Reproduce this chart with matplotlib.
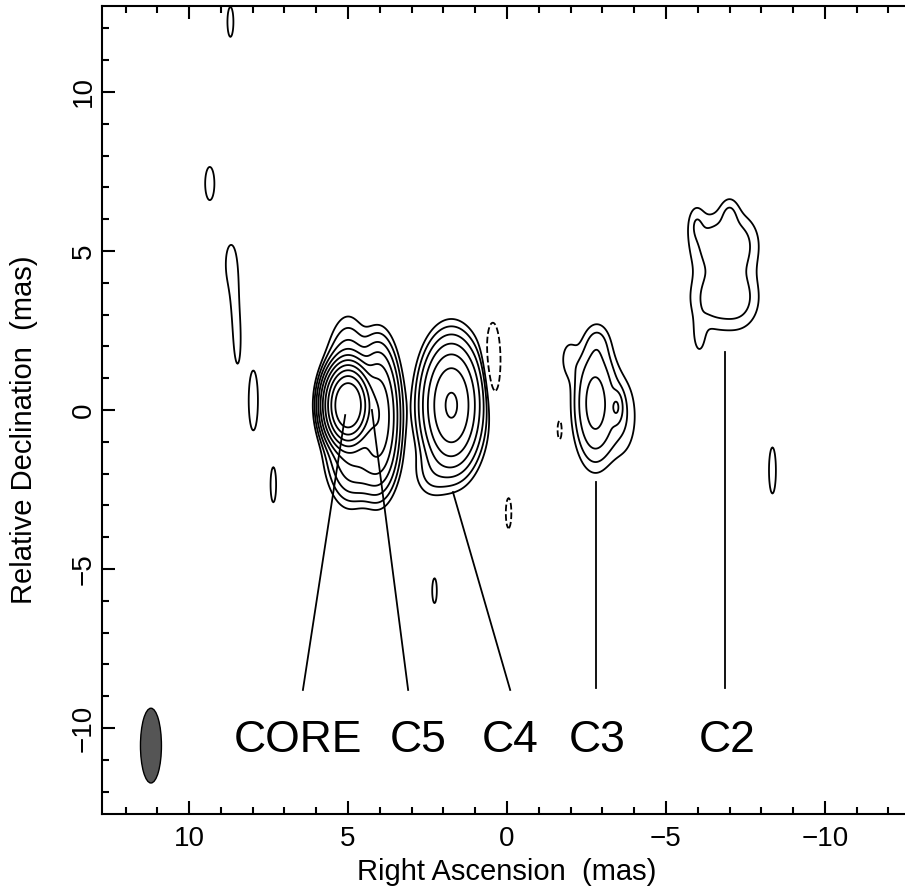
import numpy as np
import matplotlib
import matplotlib.pyplot as plt
from matplotlib.patches import Ellipse
from matplotlib.ticker import MultipleLocator

matplotlib.use("Agg")

plt.rcParams["font.family"] = ["Liberation Sans", "DejaVu Sans"]

# Gaussian model components (RA, Dec in mas; peak in units of the lowest contour)
comp_ra = [5.0, 5.0, 4.05, 4.6,
           1.75, 2.4,
           -2.77, -3.45, -3.6, -1.95, -2.85,
           -6.45, -7.3, -6.45, -7.3, -5.95, -7.0, -6.05,
           8.7, 9.35, 8.72, 8.55, 8.47, 7.98, 7.35, 2.28, -8.35,
           0.45, -1.66, -0.05]
comp_dec = [0.15, 0.0, -0.2, -1.6,
            0.15, -2.0,
            0.22, 0.09, -0.2, 1.6, 2.1,
            5.2, 5.2, 3.5, 3.5, 5.9, 6.2, 2.3,
            12.2, 7.12, 4.6, 3.2, 2.1, 0.3, -2.35, -5.68, -1.9,
            1.5, -0.62, -3.24]
comp_peak = [1300, 20, 60, 10,
             70, 1.8,
             11, 5.5, 2, 1.4, 1.5,
             2.4, 2.4, 2.4, 2.4, 1.3, 1.5, 1.3,
             1.3, 1.3, 1.15, 1.15, 1.15, 1.3, 1.3, 1.3, 1.3,
             -2.2, -1.3, -1.3]
comp_sx = [0.29, 0.35, 0.3, 0.45,
           0.43, 0.35,
           0.35, 0.12, 0.35, 0.2, 0.25,
           0.5, 0.45, 0.5, 0.45, 0.18, 0.2, 0.15,
           0.13, 0.2, 0.22, 0.12, 0.09, 0.2, 0.12, 0.1, 0.15,
           0.2, 0.1, 0.12]
comp_sy = [0.5, 1.2, 1.0, 0.6,
           0.93, 0.5,
           1.0, 0.3, 0.9, 0.45, 0.4,
           0.65, 0.65, 0.65, 0.65, 0.4, 0.35, 0.45,
           0.65, 0.72, 0.9, 1.0, 0.7, 1.3, 0.76, 0.54, 1.0,
           1.0, 0.44, 0.65]

contour_levels = [-1, 1, 2, 4, 8, 16, 32, 64, 128, 256, 512]

# component labels and their pointer lines
label_names = ["CORE", "C5", "C4", "C3", "C2"]
label_ra = [6.57, 2.8, -0.1, -2.85, -6.92]
label_dec = [-10.4, -10.4, -10.4, -10.4, -10.4]
pointer_ra0 = [5.09, 4.25, 1.7, -2.8, -6.86]
pointer_dec0 = [-0.16, 0.0, -2.58, -2.26, 1.82]
pointer_ra1 = [6.42, 3.11, -0.1, -2.8, -6.86]
pointer_dec1 = [-8.8, -8.8, -8.8, -8.74, -8.74]

# restoring beam
beam_ra, beam_dec = 11.2, -10.55
beam_minor, beam_major = 0.66, 2.35

ra = np.arange(-13.5, 13.5, 0.025)
dec = np.arange(-13.5, 13.5, 0.025)
RA, DEC = np.meshgrid(ra, dec)
image = np.zeros_like(RA)
for x0, y0, a, sx, sy in zip(comp_ra, comp_dec, comp_peak, comp_sx, comp_sy):
    image += a * np.exp(-((RA - x0) ** 2 / (2 * sx ** 2) + (DEC - y0) ** 2 / (2 * sy ** 2)))

fig = plt.figure(figsize=(9.05, 8.92), dpi=100)
ax = fig.add_axes([102 / 905, 78 / 892, 810 / 905, 808 / 892])

ax.contour(RA, DEC, image, levels=contour_levels, colors="k",
           linewidths=1.3, negative_linestyles="dashed")

for x0, y0, x1, y1 in zip(pointer_ra0, pointer_dec0, pointer_ra1, pointer_dec1):
    ax.plot([x0, x1], [y0, y1], color="k", lw=1.3)

for name, x, y in zip(label_names, label_ra, label_dec):
    ax.text(x, y, name, fontsize=32, ha="center", va="center")

ax.add_patch(Ellipse((beam_ra, beam_dec), beam_minor, beam_major,
                     facecolor="#555555", edgecolor="k", lw=1))

ax.set_xlim(12.74, -12.74)
ax.set_ylim(-12.7, 12.7)
ax.xaxis.set_major_locator(MultipleLocator(5))
ax.xaxis.set_minor_locator(MultipleLocator(1))
ax.yaxis.set_major_locator(MultipleLocator(5))
ax.yaxis.set_minor_locator(MultipleLocator(1))
ax.tick_params(which="both", direction="in", top=True, right=False, width=1.5,
               labelsize=20)
ax.tick_params(which="major", length=9.5, pad=9)
ax.tick_params(which="minor", length=5)
ax.tick_params(axis="y", labelrotation=90, pad=4)
for lab in ax.get_yticklabels():
    lab.set_va("center")
for sp in ax.spines.values():
    sp.set_linewidth(1.5)

ax.set_xlabel("Right Ascension  (mas)", fontsize=21, labelpad=4)
ax.set_ylabel("Relative Declination  (mas)", fontsize=21)
ax.yaxis.set_label_coords(-0.079, 0.475)

fig.savefig("out.png", dpi=100, facecolor="white")
